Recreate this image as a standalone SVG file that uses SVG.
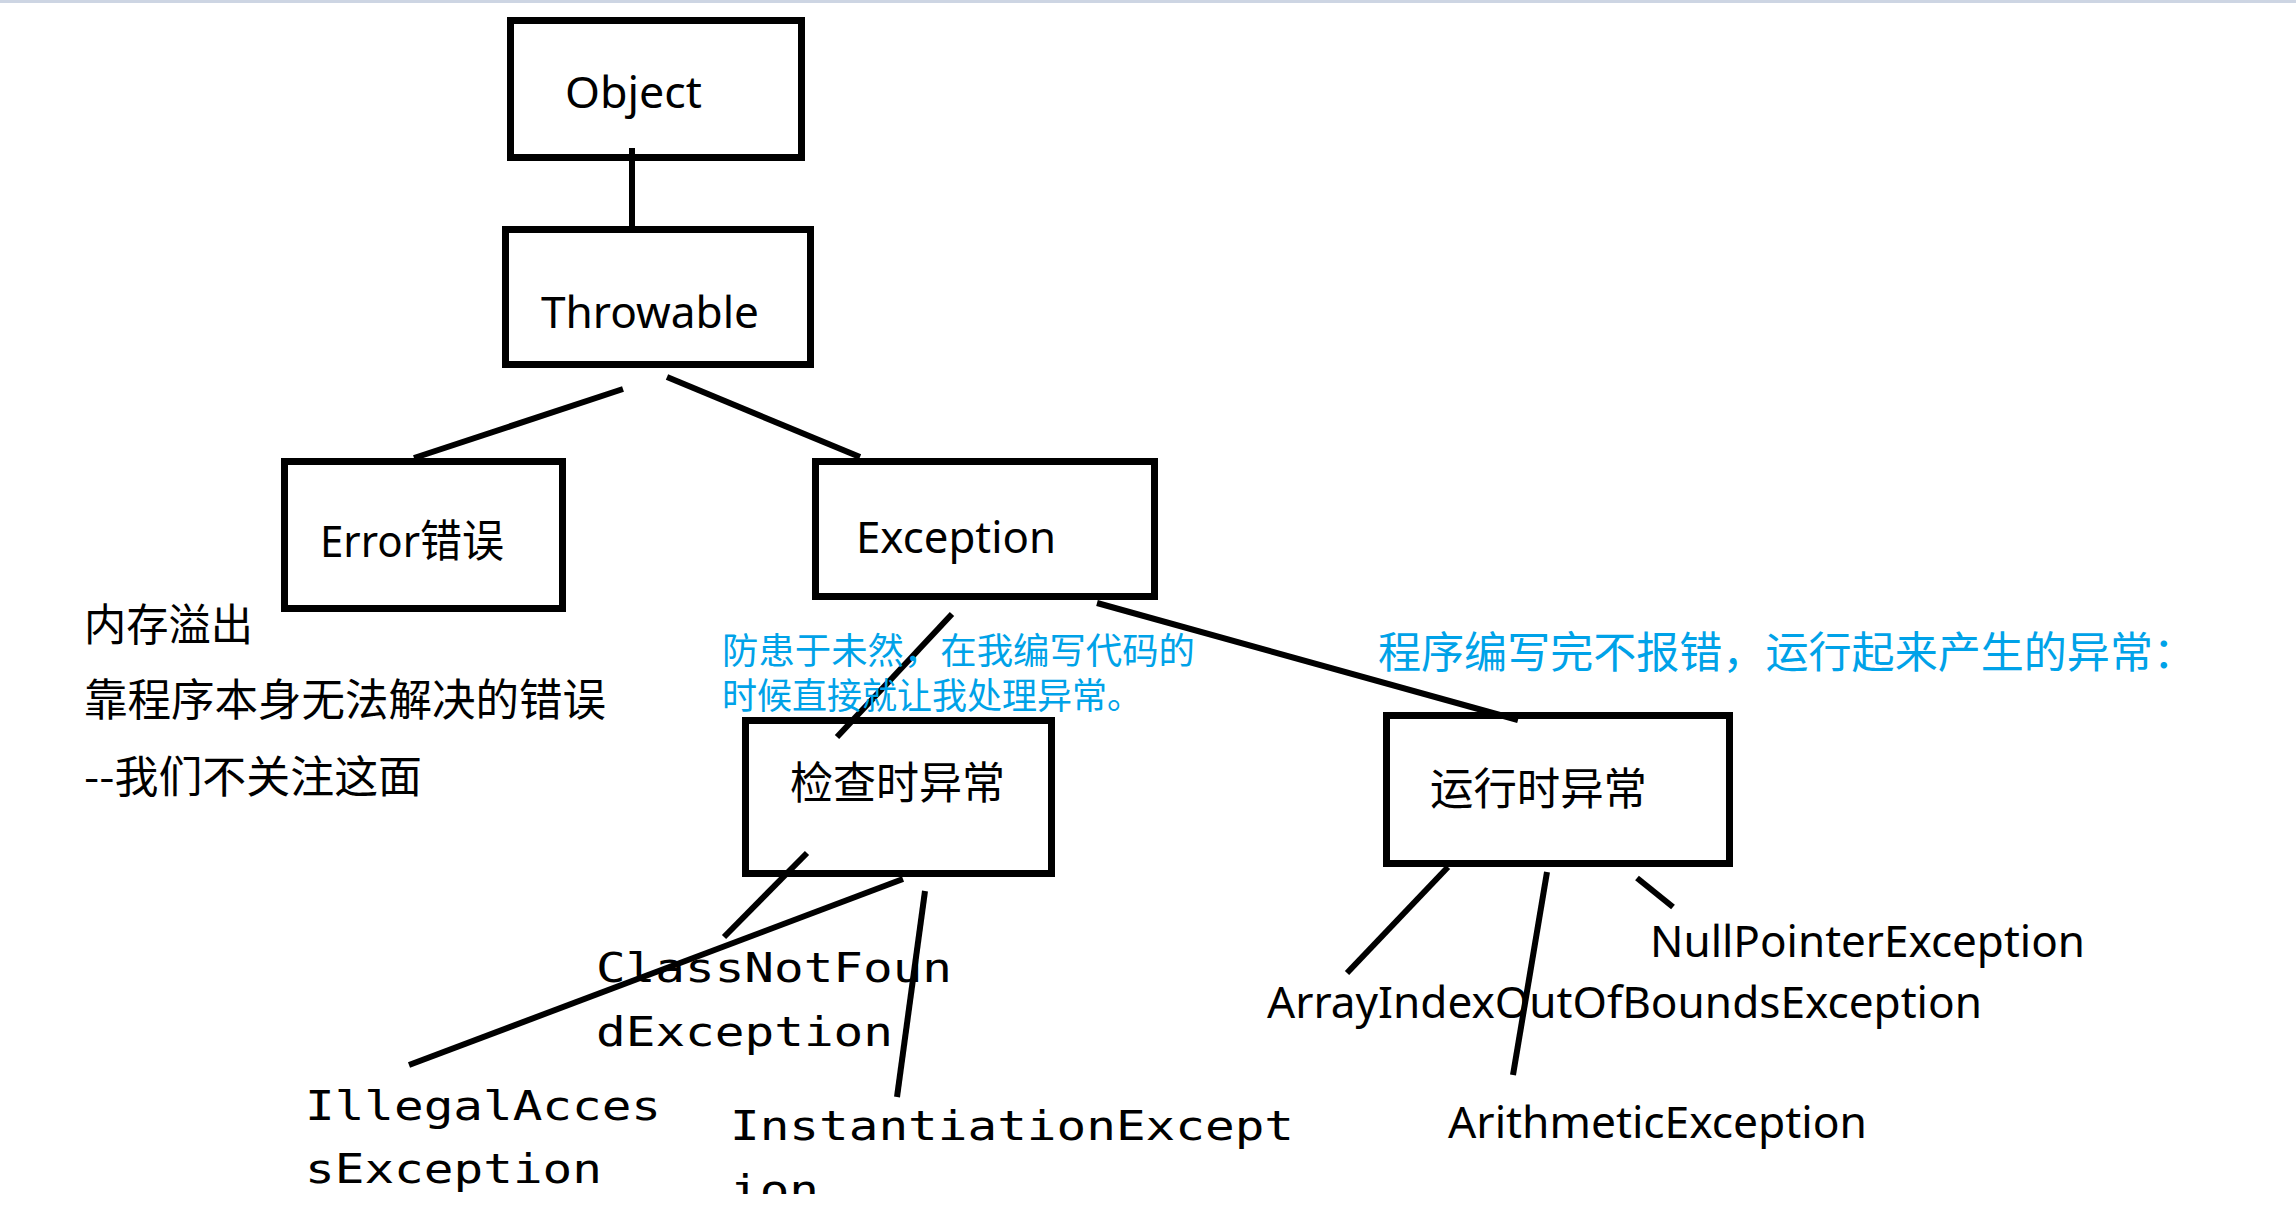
<svg xmlns="http://www.w3.org/2000/svg" width="2296" height="1214" viewBox="0 0 2296 1214">
<style>
.box{fill:none;stroke:#000;stroke-width:7}
.ln{stroke:#000;stroke-width:6;stroke-linecap:butt;fill:none}
.sans{font-family:"Noto Sans","Noto Sans CJK SC",sans-serif;font-size:44px;fill:#000}
.cjk{font-family:"Noto Sans CJK SC",sans-serif;font-size:44px;fill:#000}
.blue{font-family:"Noto Sans CJK SC",sans-serif;fill:#00a2e8}
.mono{font-family:"DejaVu Sans Mono","Liberation Mono",monospace;font-size:40px;fill:#000}
</style>
<rect x="0" y="0" width="2296" height="1214" fill="#ffffff"/>
<rect x="0" y="0" width="2296" height="3" fill="#cdd5e3"/>

<g id="connectors">
<line class="ln" x1="632" y1="148" x2="632" y2="227"/>
<line class="ln" x1="623" y1="389" x2="414" y2="458"/>
<line class="ln" x1="667" y1="377" x2="860" y2="457"/>
<line class="ln" x1="952" y1="614" x2="837" y2="737"/>
<line class="ln" x1="1097" y1="603" x2="1518" y2="720"/>
<line class="ln" x1="807" y1="853" x2="724" y2="937"/>
<line class="ln" x1="903" y1="879" x2="409" y2="1065"/>
<line class="ln" x1="925" y1="891" x2="897" y2="1097"/>
<line class="ln" x1="1448" y1="867" x2="1347" y2="973"/>
<line class="ln" x1="1547" y1="872" x2="1513" y2="1075"/>
<line class="ln" x1="1637" y1="878" x2="1673" y2="907"/>
</g>

<g id="object">
<rect class="box" x="510.5" y="20.5" width="291" height="137"/>
<text class="sans" x="565" y="108" textLength="137" lengthAdjust="spacingAndGlyphs">Object</text>
</g>
<g id="throwable">
<rect class="box" x="505.5" y="229.5" width="305" height="135"/>
<text class="sans" x="541" y="328" textLength="218" lengthAdjust="spacingAndGlyphs">Throwable</text>
</g>
<g id="error">
<rect class="box" x="284.5" y="461.5" width="278" height="147"/>
<text class="sans" x="320" y="557" textLength="184" lengthAdjust="spacingAndGlyphs">Error错误</text>
</g>
<g id="exception">
<rect class="box" x="815.5" y="461.5" width="339" height="135"/>
<text class="sans" x="856" y="553" textLength="200" lengthAdjust="spacingAndGlyphs">Exception</text>
</g>
<g id="checked">
<rect class="box" x="745.5" y="720.5" width="306" height="153"/>
<text class="cjk" x="790" y="799" textLength="215" lengthAdjust="spacingAndGlyphs">检查时异常</text>
</g>
<g id="runtime">
<rect class="box" x="1386.5" y="715.5" width="343" height="148"/>
<text class="cjk" x="1430" y="805" textLength="217" lengthAdjust="spacingAndGlyphs">运行时异常</text>
</g>

<g id="error-notes">
<text class="cjk" x="84" y="641" textLength="169" lengthAdjust="spacingAndGlyphs">内存溢出</text>
<text class="cjk" x="84" y="716" textLength="522" lengthAdjust="spacingAndGlyphs">靠程序本身无法解决的错误</text>
<text class="cjk" x="84" y="793" textLength="338" lengthAdjust="spacingAndGlyphs">--我们不关注这面</text>
</g>
<g id="checked-note">
<text class="blue" x="722" y="664" font-size="36" textLength="473" lengthAdjust="spacingAndGlyphs">防患于未然，在我编写代码的</text>
<text class="blue" x="722" y="709" font-size="36" textLength="420" lengthAdjust="spacingAndGlyphs">时候直接就让我处理异常。</text>
</g>
<g id="runtime-note">
<text class="blue" x="1378" y="668" font-size="43" textLength="818" lengthAdjust="spacingAndGlyphs">程序编写完不报错，运行起来产生的异常：</text>
</g>

<g id="classnotfound">
<text class="mono" x="596" y="982" textLength="356" lengthAdjust="spacingAndGlyphs">ClassNotFoun</text>
<text class="mono" x="596" y="1046" textLength="297" lengthAdjust="spacingAndGlyphs">dException</text>
</g>
<g id="illegalaccess">
<text class="mono" x="305" y="1120" textLength="356" lengthAdjust="spacingAndGlyphs">IllegalAcces</text>
<text class="mono" x="305" y="1183" textLength="297" lengthAdjust="spacingAndGlyphs">sException</text>
</g>
<g id="instantiation">
<text class="mono" x="730" y="1140" textLength="564" lengthAdjust="spacingAndGlyphs">InstantiationExcept</text>
<text class="mono" x="730" y="1204" textLength="89" lengthAdjust="spacingAndGlyphs">ion</text>
</g>
<g id="nullpointer">
<text class="sans" x="1650" y="957" textLength="435" lengthAdjust="spacingAndGlyphs">NullPointerException</text>
</g>
<g id="arrayindex">
<text class="sans" x="1267" y="1018" textLength="715" lengthAdjust="spacingAndGlyphs">ArrayIndexOutOfBoundsException</text>
</g>
<g id="arithmetic">
<text class="sans" x="1448" y="1138" textLength="419" lengthAdjust="spacingAndGlyphs">ArithmeticException</text>
</g>
<rect x="0" y="1194" width="2296" height="20" fill="#ffffff"/>
</svg>
